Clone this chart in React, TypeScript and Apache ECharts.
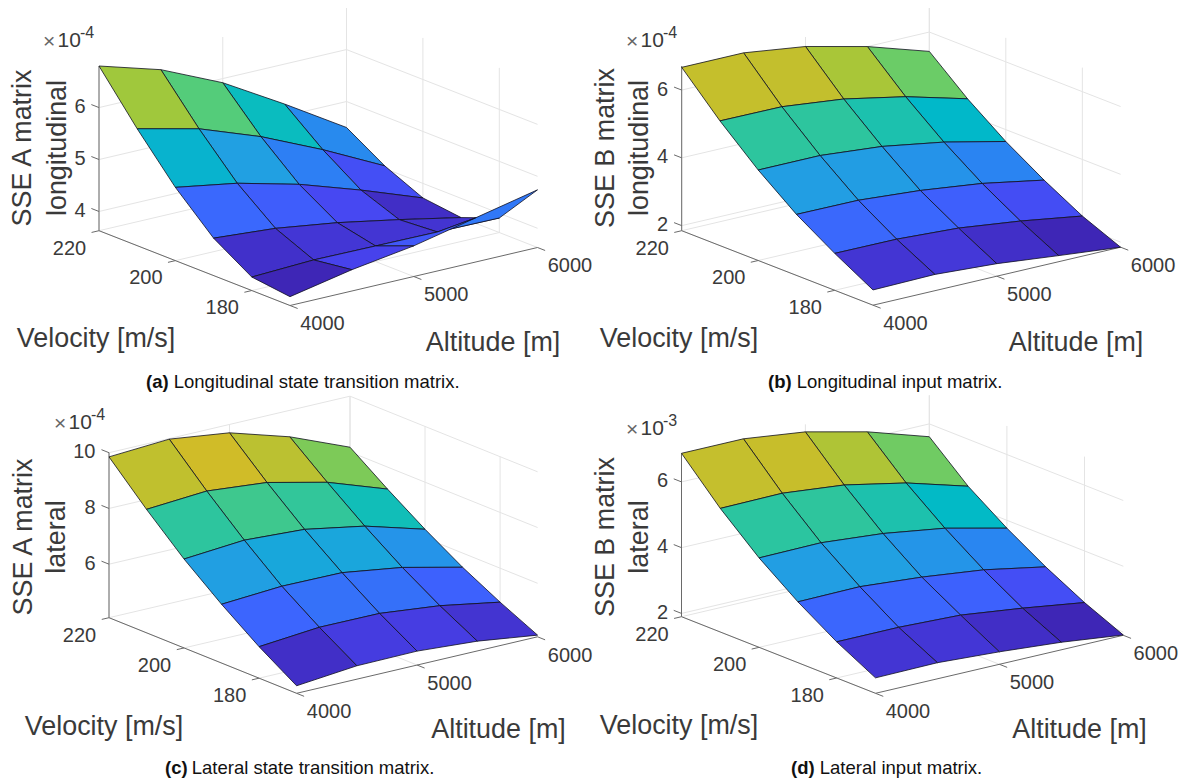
import React, { useEffect, useRef } from "react";
import * as echarts from "echarts";

const velocities = [220, 210, 200, 190, 180, 170];
const altitudes = [4000, 4500, 5000, 5500, 6000];
const velocityTicks = [220, 200, 180];
const altitudeTicks = [4000, 5000, 6000];

const zA = [
  [6.80, 6.45, 5.92, 5.23, 4.50],
  [5.88, 5.60, 5.17, 4.64, 4.05],
  [5.04, 4.84, 4.54, 4.15, 3.72],
  [4.35, 4.26, 4.09, 3.87, 3.63],
  [3.89, 3.94, 3.93, 3.92, 3.91],
  [3.80, 4.04, 4.22, 4.48, 4.74],
];
const zB = [
  [6.67, 6.67, 6.43, 6.00, 5.43],
  [5.53, 5.52, 5.32, 4.96, 4.47],
  [4.52, 4.52, 4.36, 4.06, 3.65],
  [3.65, 3.64, 3.50, 3.28, 2.95],
  [2.94, 2.93, 2.83, 2.61, 2.33],
  [2.30, 2.33, 2.22, 2.03, 1.85],
];
const zC = [
  [9.85, 9.98, 9.70, 9.05, 8.17],
  [8.51, 8.66, 8.46, 7.96, 7.21],
  [7.27, 7.44, 7.32, 6.93, 6.31],
  [6.19, 6.33, 6.31, 5.99, 5.49],
  [5.21, 5.40, 5.39, 5.16, 4.78],
  [4.35, 4.56, 4.58, 4.43, 4.14],
];
const zD = [
  [6.87, 6.87, 6.64, 6.20, 5.61],
  [5.66, 5.68, 5.49, 5.11, 4.57],
  [4.62, 4.64, 4.48, 4.20, 3.76],
  [3.75, 3.77, 3.62, 3.40, 3.05],
  [3.00, 3.00, 2.93, 2.70, 2.43],
  [2.37, 2.39, 2.28, 2.13, 1.91],
];

const colorStops: number[][] = [
  [62, 38, 182], [72, 68, 240], [60, 100, 254], [42, 132, 242], [33, 160, 226], [0, 185, 200],
  [38, 196, 165], [88, 205, 118], [160, 200, 60], [212, 187, 38], [249, 251, 20],
];

const panels = [
  {
    z: zA, zTicks: [4, 5, 6], zRange: [3.63, 6.8], clim: [3.8, 6.4], origin: [99, 230.7], vel: [191, 74.8], alt: [247.5, -58], h: 164.7,
    zLines: ["SSE A matrix", "longitudinal"], ylabelX: [22, 57], ylabelY: 148,
    velLabel: [96, 338], altLabel: [493, 342], mult: [44, 40, "-4"],
    capX: 146, capY: 381, capBold: "(a)", capGap: 1.5, cap: "Longitudinal state transition matrix.",
  },
  {
    z: zB, zTicks: [2, 4, 6], zRange: [1.85, 6.71], clim: [2.1, 6.04], origin: [681.7, 230.7], vel: [191.3, 74.5], alt: [247.6, -58], h: 164.7,
    zLines: ["SSE B matrix", "longitudinal"], ylabelX: [605, 639], ylabelY: 148,
    velLabel: [679, 338], altLabel: [1076, 342], mult: [627, 40, "-4"],
    capX: 768, capY: 381, capBold: "(b)", capGap: 1.555, cap: "Longitudinal input matrix.",
  },
  {
    z: zC, zTicks: [6, 8, 10], zRange: [4.08, 10], clim: [4.2, 9.2], origin: [109, 617.7], vel: [187.6, 75.6], alt: [241, -56.5], h: 165,
    zLines: ["SSE A matrix", "lateral"], ylabelX: [23, 56], ylabelY: 537,
    velLabel: [104, 725.5], altLabel: [498.5, 729], mult: [55, 422, "-4"],
    capX: 165, capY: 767, capBold: "(c)", capGap: 1.444, cap: "Lateral state transition matrix.",
  },
  {
    z: zD, zTicks: [2, 4, 6], zRange: [1.9, 6.87], clim: [2.17, 6.18], origin: [681.5, 616.7], vel: [194, 76.6], alt: [247.8, -58], h: 163.4,
    zLines: ["SSE B matrix", "lateral"], ylabelX: [605, 639], ylabelY: 537,
    velLabel: [679, 725], altLabel: [1079.5, 729], mult: [627, 428, "-3"],
    capX: 791, capY: 767, capBold: "(d)", capGap: 1.555, cap: "Lateral input matrix.",
  },
];

type Panel = (typeof panels)[number];
const FONT = '"Liberation Sans", Arial, sans-serif';
const vMax = velocities[0];
const vMin = velocities[velocities.length - 1];
const aMin = altitudes[0];
const aMax = altitudes[altitudes.length - 1];

function project(p: Panel, v: number, a: number, z: number): number[] {
  const tv = (vMax - v) / (vMax - vMin);
  const ta = (a - aMin) / (aMax - aMin);
  const tz = (z - p.zRange[0]) / (p.zRange[1] - p.zRange[0]);
  return [p.origin[0] + tv * p.vel[0] + ta * p.alt[0], p.origin[1] + tv * p.vel[1] + ta * p.alt[1] - tz * p.h];
}

function colormap(t: number): string {
  const c = Math.max(0, Math.min(1, t)) * (colorStops.length - 1);
  const k = Math.min(colorStops.length - 2, Math.floor(c));
  const f = c - k;
  const m = colorStops[k].map((s, n) => Math.round(s + (colorStops[k + 1][n] - s) * f));
  return `rgb(${m[0]},${m[1]},${m[2]})`;
}

function surfaceSeries(p: Panel) {
  const cells: number[][] = [];
  for (let i = 0; i < velocities.length - 1; i++) {
    for (let j = altitudes.length - 2; j >= 0; j--) cells.push([i, j]);
  }
  return {
    type: "custom",
    coordinateSystem: "cartesian2d",
    silent: true,
    clip: false,
    data: cells,
    z: 3,
    renderItem: (_: any, api: any) => {
      const i = api.value(0);
      const j = api.value(1);
      const corners = [[i, j], [i, j + 1], [i + 1, j + 1], [i + 1, j]];
      const points = corners.map(([a, b]) => api.coord(project(p, velocities[a], altitudes[b], p.z[a][b])));
      const t = (p.z[i + 1][j] - p.clim[0]) / (p.clim[1] - p.clim[0]);
      return {
        type: "polygon",
        shape: { points },
        style: { fill: colormap(t), stroke: "#10101f", lineWidth: 0.8, lineJoin: "round" },
      };
    },
  };
}

function segmentSeries(p: Panel, segs: number[][], stroke: string, z: number) {
  return {
    type: "custom",
    coordinateSystem: "cartesian2d",
    silent: true,
    clip: false,
    data: segs,
    z,
    renderItem: (_: any, api: any) => {
      const s = api.coord(project(p, api.value(0), api.value(1), api.value(2)));
      const e = api.coord(project(p, api.value(3), api.value(4), api.value(5)));
      return {
        type: "line",
        shape: { x1: s[0], y1: s[1], x2: e[0], y2: e[1] },
        style: { stroke, lineWidth: 1 },
      };
    },
  };
}

function gridSegs(p: Panel) {
  const [z0, z1] = p.zRange;
  const out: number[][] = [];
  for (const z of p.zTicks) {
    out.push([vMax, aMin, z, vMax, aMax, z]);
    out.push([vMax, aMax, z, vMin, aMax, z]);
  }
  for (const a of altitudeTicks) {
    out.push([vMax, a, z0, vMax, a, z1]);
    out.push([vMin, a, z0, vMax, a, z0]);
  }
  for (const v of velocityTicks) {
    out.push([v, aMax, z0, v, aMax, z1]);
    out.push([v, aMin, z0, v, aMax, z0]);
  }
  return out;
}

function axisSegs(p: Panel) {
  const [z0, z1] = p.zRange;
  const out: number[][] = [
    [vMax, aMin, z0, vMax, aMin, z1],
    [vMax, aMin, z0, vMin, aMin, z0],
    [vMin, aMin, z0, vMin, aMax, z0],
  ];
  for (const z of p.zTicks) out.push([vMax, aMin, z, vMax + 2, aMin, z]);
  for (const v of velocityTicks) out.push([v, aMin, z0, v, aMin - 60, z0]);
  for (const a of altitudeTicks) out.push([vMin, a, z0, vMin - 2, a, z0]);
  return out;
}

function txt(text: string, x: number, y: number, size: number, extra: any = {}, elem: any = {}) {
  const align = extra.align || "center";
  return {
    type: "text",
    x,
    y,
    silent: true,
    ...elem,
    style: {
      text,
      fontFamily: FONT,
      fontSize: size,
      fill: "#3a3a3a",
      align,
      textAlign: align,
      verticalAlign: "middle",
      textVerticalAlign: "middle",
      ...extra,
    },
  };
}

function panelTexts(p: Panel) {
  const out: any[] = [];
  for (const v of velocityTicks) {
    const q = project(p, v, aMin, p.zRange[0]);
    out.push(txt(String(v), q[0] - 29.5, q[1] + 16.8, 20));
  }
  for (const a of altitudeTicks) {
    const q = project(p, vMin, a, p.zRange[0]);
    out.push(txt(String(a), q[0] + 32.5, q[1] + 17.7, 20));
  }
  for (const z of p.zTicks) {
    const q = project(p, vMax, aMin, z);
    out.push(txt(String(z), q[0] - 13.5, q[1] - 1.5, 20, { align: "right" }));
  }
  out.push(txt("Velocity [m/s]", p.velLabel[0], p.velLabel[1], 26.9));
  out.push(txt("Altitude [m]", p.altLabel[0], p.altLabel[1], 26.9));
  p.zLines.forEach((line, n) => {
    out.push(txt(line, p.ylabelX[n], p.ylabelY, 26.9, {}, { rotation: Math.PI / 2 }));
  });
  const [mx, my, exp] = p.mult as [number, number, string];
  out.push(txt("×", mx - 1, my, 21, { align: "left", fill: "#666" }));
  out.push(txt("10", mx + 13.5, my - 1, 21, { align: "left" }));
  out.push(txt(exp, mx + 36, my - 7.5, 16, { align: "left" }));
  const capSize = 18.5;
  out.push(txt(p.capBold, p.capX, p.capY, capSize, { align: "left", fontWeight: "bold", fill: "#111" }));
  out.push(txt(p.cap, p.capX + capSize * p.capGap, p.capY, capSize, { align: "left", fill: "#111" }));
  return out;
}

export default function App() {
  const ref = useRef<HTMLDivElement>(null);
  useEffect(() => {
    const chart = echarts.init(ref.current!, undefined, { renderer: "svg" });
    chart.setOption({
      animation: false,
      backgroundColor: "#fff",
      grid: { left: 0, right: 0, top: 0, bottom: 0 },
      xAxis: { type: "value", min: 0, max: 1187, show: false },
      yAxis: { type: "value", min: 0, max: 781, inverse: true, show: false },
      series: panels.flatMap((p) => [
        segmentSeries(p, gridSegs(p), "#e4e4e4", 1),
        segmentSeries(p, axisSegs(p), "#6a6a6a", 2),
        surfaceSeries(p),
      ]),
      graphic: { elements: panels.flatMap(panelTexts) },
    });
    return () => chart.dispose();
  }, []);
  return <div ref={ref} style={{ position: "absolute", left: 0, top: 0, width: 1187, height: 781 }} />;
}
